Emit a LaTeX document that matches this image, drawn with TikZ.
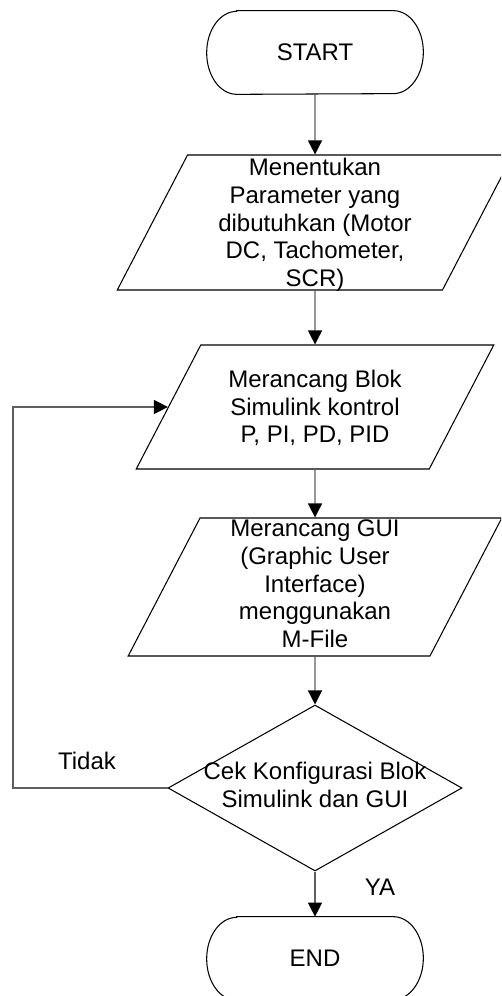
\documentclass[tikz,border=0pt]{standalone}
\usepackage{fontspec}
\setmainfont{Liberation Sans}
\usepackage{tikz}
\usetikzlibrary{shapes.geometric, arrows.meta, positioning}
\definecolor{linegray}{RGB}{95,95,95}
\tikzset{
  term/.style={rectangle, minimum width=4.32cm, minimum height=1.66cm,
    inner sep=0pt, font=\fontsize{13.66pt}{15.76pt}\selectfont},
  io/.style={trapezium, trapezium left angle=62.5, trapezium right angle=117.5,
    draw=black, line width=0.6pt, inner sep=0pt, text depth=0pt},
  decision/.style={diamond, draw=black, line width=0.6pt, inner sep=0pt,
    minimum width=5.88cm, minimum height=3.32cm},
  txt/.style={align=center, inner sep=0pt, font=\fontsize{13.66pt}{15.76pt}\selectfont},
  outline/.style={draw=black, line width=0.6pt},
  arrow/.style={-{Triangle[width=8pt, length=8pt, black]}, line width=0.7pt, color=linegray}
}

\begin{document}
\begin{tikzpicture}[x=0.02cm, y=0.02cm]
\clip (0,0) rectangle (501,-996);

% terminals
\node[term] (start) at (315,-52.5) {START};
\node[term] (stop) at (315,-958.5) {END};
\draw[outline] ([xshift=0.6cm]start.north west) -- ([xshift=-0.6cm]start.north east)
  arc[start angle=90, end angle=-90, x radius=0.6cm, y radius=0.83cm]
  -- ([xshift=0.6cm]start.south west)
  arc[start angle=270, end angle=90, x radius=0.6cm, y radius=0.83cm] -- cycle;
\draw[outline] ([xshift=0.6cm]stop.north west) -- ([xshift=-0.6cm]stop.north east)
  arc[start angle=90, end angle=-90, x radius=0.6cm, y radius=0.83cm]
  -- ([xshift=0.6cm]stop.south west)
  arc[start angle=270, end angle=90, x radius=0.6cm, y radius=0.83cm] -- cycle;

% steps
\node[io, text width=5.1cm, text height=2.7cm] (param) at (315,-222.5) {};
\node[txt] (paramtxt) at (315,-225) {Menentukan\\Parameter yang\\dibutuhkan (Motor\\DC, Tachometer,\\SCR)};

\node[io, text width=4.57cm, text height=2.48cm] (design) at (315,-407) {};
\node[txt] (designtxt) at (315,-408) {Merancang Blok\\Simulink kontrol\\P, PI, PD, PID};

\node[io, text width=4.6cm, text height=2.76cm] (gui) at (315,-587) {};
\node[txt] (guitxt) at (315,-584) {Merancang GUI\\(Graphic User\\Interface)\\menggunakan\\M-File};

\node[decision] (check) at (315,-788) {};
\node[txt] (checktxt) at (315,-785) {Cek Konfigurasi Blok\\Simulink dan GUI};

\node[txt] (no) at (87,-761) {Tidak};
\node[txt] (yes) at (380,-887) {YA};
\coordinate (loop) at (13,-788);

\draw[arrow] (start) -- (param);
\draw[arrow] (param) -- (design);
\draw[arrow] (design) -- (gui);
\draw[arrow] (gui) -- (check);
\draw[arrow] (check) -- (stop);
\draw[arrow] (check.west) -- (loop) |- (design.west);
\end{tikzpicture}
\end{document}
